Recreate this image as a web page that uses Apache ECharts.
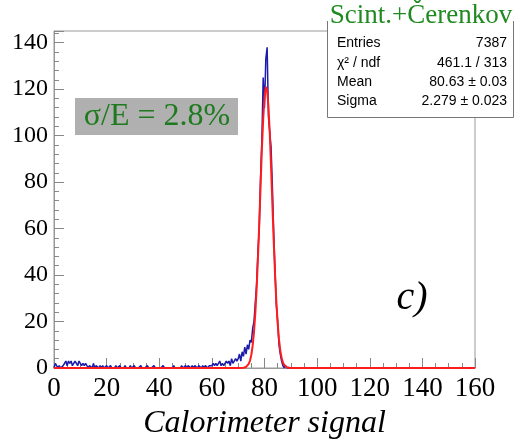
<!DOCTYPE html>
<html><head><meta charset="utf-8">
<script src="https://cdn.jsdelivr.net/npm/echarts@6/dist/echarts.min.js"></script>
<style>html,body{margin:0;padding:0;background:#fff}#c{width:519px;height:443px}</style>
</head><body><div id="c"></div>
<script>
// Histogram: bin centers start at 0, step 0.5
const binStart = 0;
const binStep = 0.5;
const histCounts = [
  0,2,1,0,1,0,0,1,
  2,3,1,3,2,3,1,2,3,2,1,3,2,1,2,1,
  2,1,0,1,1,0,2,0,1,1,0,1,0,1,0,0,
  1,0,0,1,0,0,0,1,0,0,1,0,0,0,1,0,0,0,1,0,
  0,1,0,0,0,0,1,0,0,0,0,1,0,0,0,0,1,0,0,0,
  0,0,0,1,0,0,0,0,0,0,0,1,0,0,0,0,0,1,0,0,
  1,0,1,1,0,1,0,1,1,0,1,1,0,1,0,1,1,0,1,1,
  1,2,1,2,1,2,3,1,2,1,2,3,2,3,1,4,2,3,4,3,
  4,6,3,7,5,9,6,10,8,12,11,17,20,28,36,50,60,82,98,125,
  112,133,138,108,108,95,78,58,42,27,20,10,6,3,1,0,1,
  0,0,0,0,0,0,0,0,0,0,0,0,0,0
];
const histEnd = 160;

// Gaussian fit curve
const fitX = [0, 70, 71, 72, 72.5, 73, 73.5, 74, 74.5, 75, 75.5, 76, 76.5, 77, 77.5, 78, 78.5, 79, 79.5, 80, 80.5, 81, 81.5, 82, 82.5, 83, 83.5, 84, 84.5, 85, 85.5, 86, 86.5, 87, 87.5, 88, 88.5, 89, 90, 160];
const fitY = [0, 0, 0.02, 0.1, 0.2, 0.45, 0.9, 1.8, 3.2, 5.7, 9.6, 15.4, 23.4, 34, 47, 62, 78, 94, 107, 116.5, 121, 119.5, 112.5, 101, 86.4, 70.4, 54.8, 40.5, 28.6, 19.3, 12.3, 7.5, 4.4, 2.4, 1.3, 0.65, 0.3, 0.1, 0, 0];

const yTicks = [0, 20, 40, 60, 80, 100, 120, 140];
const xTicks = [0, 20, 40, 60, 80, 100, 120, 140, 160];

const statsRows = [
  ['Entries', '7387'],
  ['\u03c7\u00b2 / ndf', '461.1 / 313'],
  ['Mean', '80.63 \u00b1 0.03'],
  ['Sigma', '2.279 \u00b1 0.023']
];
const statsTitle = 'Scint.+\u010cerenkov';
const resolutionText = '\u03c3/E = 2.8%';
const panelLabel = 'c)';
const xTitle = 'Calorimeter signal';

const histData = histCounts.map((v, i) => [binStart + i * binStep, v]);
histData.push([histEnd, 0]);
const fitData = fitX.map((x, i) => [x, fitY[i]]);

const chart = echarts.init(document.getElementById('c'), null, {renderer: 'canvas'});
const serif = 'Liberation Serif';
const graphics = [
  {type: 'rect', shape: {x: 75, y: 98, width: 163, height: 37}, style: {fill: '#b0b0b0'}, z: 10},
  {type: 'text', x: 157, y: 117, style: {text: resolutionText, font: '32px "Liberation Serif"', fill: '#1f7a1f', align: 'center', verticalAlign: 'middle'}, z: 11},
  {type: 'text', x: 412, y: 298, style: {text: panelLabel, font: 'italic 40px "Liberation Serif"', fill: '#000', align: 'center', verticalAlign: 'middle'}, z: 11},
  {type: 'rect', shape: {x: 327, y: 21, width: 187, height: 97}, style: {fill: '#fff'}, z: 10},
  {type: 'polyline', shape: {points: [[327.5, 21], [327.5, 117.5], [513.5, 117.5], [513.5, 21]]}, style: {stroke: '#777', lineWidth: 1, fill: null}, z: 11},
  {type: 'text', x: 421, y: 16, style: {text: statsTitle, font: '27px "Liberation Serif"', fill: '#1f8a1f', align: 'center', verticalAlign: 'middle'}, z: 12}
];
statsRows.forEach((r, i) => {
  const y = 43.5 + i * 19.3;
  graphics.push({type: 'text', x: 337, y: y, style: {text: r[0], font: '14px "Liberation Sans"', fill: '#000', align: 'left', verticalAlign: 'middle'}, z: 12});
  graphics.push({type: 'text', x: 507, y: y, style: {text: r[1], font: '14px "Liberation Sans"', fill: '#000', align: 'right', verticalAlign: 'middle'}, z: 12});
});

chart.setOption({
  animation: false,
  backgroundColor: '#fff',
  grid: {left: 54, right: 44, top: 31, bottom: 75, containLabel: false, outerBoundsMode: 'none',
    show: true, borderColor: '#999', borderWidth: 1, backgroundColor: 'transparent'},
  xAxis: {
    type: 'value', min: 0, max: 160, interval: 20,
    axisLine: {show: true, lineStyle: {color: '#999', width: 1}},
    axisTick: {show: true, inside: true, length: 10, lineStyle: {color: '#888'}},
    minorTick: {show: true, splitNumber: 4, length: 5, lineStyle: {color: '#888'}},
    splitLine: {show: false},
    axisLabel: {fontFamily: serif, fontSize: 27, color: '#000', margin: 7,
      formatter: v => xTicks.includes(v) ? String(v) : ''},
    name: xTitle, nameLocation: 'middle', nameGap: 40,
    nameTextStyle: {fontFamily: serif, fontStyle: 'italic', fontSize: 32, color: '#000'}
  },
  yAxis: {
    type: 'value', min: 0, max: 145, interval: 20,
    axisLine: {show: true, lineStyle: {color: '#999', width: 1}},
    axisTick: {show: true, inside: true, length: 10, lineStyle: {color: '#888'}},
    minorTick: {show: true, splitNumber: 5, length: 5, lineStyle: {color: '#888'}},
    splitLine: {show: false},
    axisLabel: {fontFamily: serif, fontSize: 24, color: '#000', margin: 6, showMaxLabel: false,
      formatter: v => yTicks.includes(v) ? String(v) : ''}
  },
  series: [
    {type: 'line', data: histData, showSymbol: false, lineStyle: {color: '#1c1caa', width: 1.5}, z: 3, silent: true},
    {type: 'line', data: fitData, showSymbol: false, lineStyle: {color: '#ff1c1c', width: 2}, z: 4, silent: true}
  ],
  graphic: graphics
});
</script></body></html>
